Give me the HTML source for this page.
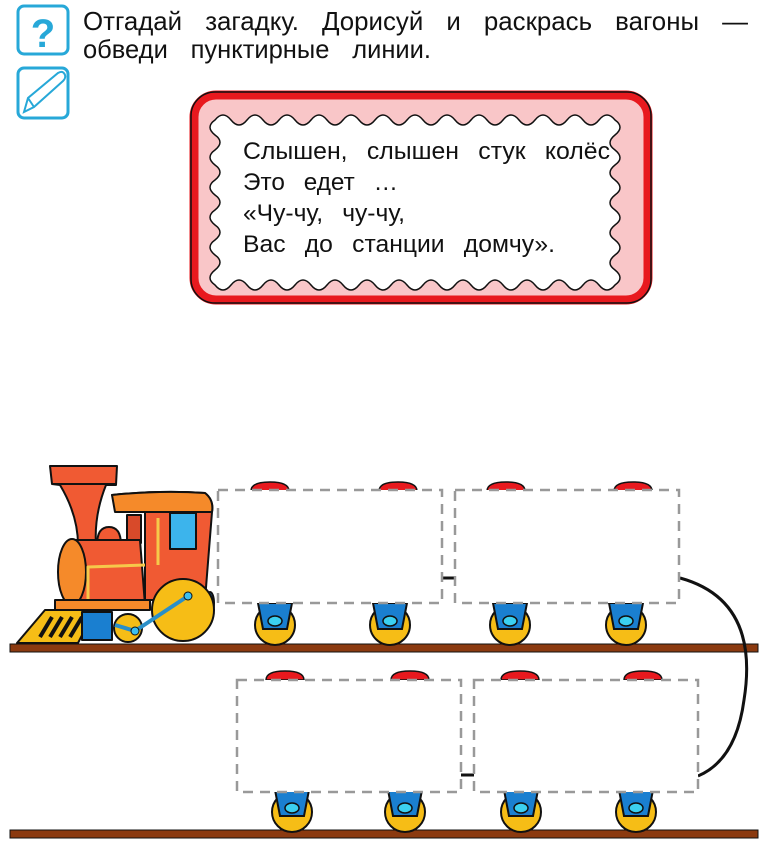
<!DOCTYPE html>
<html><head><meta charset="utf-8">
<style>
html,body{margin:0;padding:0;background:#fff;}
body{width:768px;height:854px;position:relative;overflow:hidden;}
svg{position:absolute;left:0;top:0;}
text{font-family:"Liberation Sans",Arial,sans-serif;}
</style></head><body>
<svg width="768" height="854" viewBox="0 0 768 854" xmlns="http://www.w3.org/2000/svg">
<defs>
<g id="wheel">
  <circle cx="0" cy="0" r="20" fill="#f6bd16" stroke="#111" stroke-width="2"/>
  <polygon points="-17,-22 17,-22 12,4 -12,4" fill="#1a7fd0" stroke="#111" stroke-width="2"/>
  <ellipse cx="0" cy="-4" rx="7" ry="5" fill="#3bd0f0" stroke="#111" stroke-width="1.5"/>
</g>
<path id="dome" d="M-19,0 Q-19,-9 0,-9 Q19,-9 19,0 Z" fill="#e8191e" stroke="#111" stroke-width="1.5"/>
</defs>

<rect x="18" y="6" width="50" height="48" rx="6" fill="#fff" stroke="#27a8d8" stroke-width="3"/>
<text x="43" y="47" font-size="40" font-weight="bold" fill="#27a8d8" text-anchor="middle">?</text>
<rect x="18" y="68" width="50" height="50" rx="6" fill="#fff" stroke="#27a8d8" stroke-width="3"/>
<path d="M24,112 L28,98 L58,73 Q63,70 65,75 Q66,78 63,81 L34,107 Z M28,98 L34,107" fill="none" stroke="#27a8d8" stroke-width="2"/>

<g font-size="26" fill="#111">
<text x="83" y="30" word-spacing="16" textLength="665" lengthAdjust="spacingAndGlyphs">Отгадай загадку. Дорисуй и раскрась вагоны —</text>
<text x="83" y="58" word-spacing="16" textLength="348" lengthAdjust="spacingAndGlyphs">обведи пунктирные линии.</text>
</g>

<rect x="194" y="95" width="454" height="205" rx="22" fill="#f9c6c8" stroke="#e8191e" stroke-width="9"/>
<rect x="191" y="92" width="460" height="211" rx="24" fill="none" stroke="#111" stroke-width="1.5"/>
<path fill="#fff" stroke="#111" stroke-width="1.5" d="
M215,120
q8,-10 16,0 q8,10 16,0 q8,-10 16,0 q8,10 16,0 q8,-10 16,0 q8,10 16,0 q8,-10 16,0 q8,10 16,0 q8,-10 16,0 q8,10 16,0 q8,-10 16,0 q8,10 16,0 q8,-10 16,0 q8,10 16,0 q8,-10 16,0 q8,10 16,0 q8,-10 16,0 q8,10 16,0 q8,-10 16,0 q8,10 16,0 q8,-10 16,0 q8,10 16,0 q8,-10 16,0 q8,10 16,0 q8,-10 16,0
q10,7 0,15 q-10,8 0,15 q10,8 0,15 q-10,8 0,15 q10,8 0,15 q-10,8 0,15 q10,8 0,15 q-10,8 0,15 q10,8 0,15 q-10,8 0,15 q10,8 0,15
q-8,10 -16,0 q-8,-10 -16,0 q-8,10 -16,0 q-8,-10 -16,0 q-8,10 -16,0 q-8,-10 -16,0 q-8,10 -16,0 q-8,-10 -16,0 q-8,10 -16,0 q-8,-10 -16,0 q-8,10 -16,0 q-8,-10 -16,0 q-8,10 -16,0 q-8,-10 -16,0 q-8,10 -16,0 q-8,-10 -16,0 q-8,10 -16,0 q-8,-10 -16,0 q-8,10 -16,0 q-8,-10 -16,0 q-8,10 -16,0 q-8,-10 -16,0 q-8,10 -16,0 q-8,-10 -16,0 q-8,10 -16,0
q-10,-7 0,-15 q10,-8 0,-15 q-10,-8 0,-15 q10,-8 0,-15 q-10,-8 0,-15 q10,-8 0,-15 q-10,-8 0,-15 q10,-8 0,-15 q-10,-8 0,-15 q10,-8 0,-15 q-10,-8 0,-15 Z"/>
<g font-size="24" fill="#111">
<text x="243" y="159" word-spacing="12" textLength="367" lengthAdjust="spacingAndGlyphs">Слышен, слышен стук колёс</text>
<text x="243" y="190" word-spacing="12" textLength="155" lengthAdjust="spacingAndGlyphs">Это едет …</text>
<text x="243" y="221" word-spacing="12" textLength="162" lengthAdjust="spacingAndGlyphs">«Чу-чу, чу-чу,</text>
<text x="243" y="252" word-spacing="12" textLength="312" lengthAdjust="spacingAndGlyphs">Вас до станции домчу».</text>
</g>

<rect x="10" y="644" width="748" height="8" fill="#8b3a10" stroke="#111" stroke-width="1"/>
<rect x="10" y="830" width="748" height="8" fill="#8b3a10" stroke="#111" stroke-width="1"/>

<path d="M680,578 Q760,600 744,700 Q736,760 698,776" fill="none" stroke="#111" stroke-width="3"/>
<line x1="442" y1="578" x2="455" y2="578" stroke="#111" stroke-width="3"/>
<line x1="461" y1="775" x2="474" y2="775" stroke="#111" stroke-width="3"/>

<use href="#dome" x="270" y="491"/><use href="#dome" x="398" y="491"/>
<use href="#dome" x="506" y="491"/><use href="#dome" x="633" y="491"/>
<use href="#wheel" x="275" y="625"/><use href="#wheel" x="390" y="625"/>
<use href="#wheel" x="510" y="625"/><use href="#wheel" x="626" y="625"/>
<rect x="218" y="490" width="224" height="113" fill="#fff" stroke="#999" stroke-width="2.5" stroke-dasharray="10,7"/>
<rect x="455" y="490" width="224" height="113" fill="#fff" stroke="#999" stroke-width="2.5" stroke-dasharray="10,7"/>

<use href="#dome" x="285" y="680"/><use href="#dome" x="410" y="680"/>
<use href="#dome" x="520" y="680"/><use href="#dome" x="643" y="680"/>
<use href="#wheel" x="292" y="812"/><use href="#wheel" x="405" y="812"/>
<use href="#wheel" x="521" y="812"/><use href="#wheel" x="636" y="812"/>
<rect x="237" y="680" width="224" height="112" fill="#fff" stroke="#999" stroke-width="2.5" stroke-dasharray="10,7"/>
<rect x="474" y="680" width="224" height="112" fill="#fff" stroke="#999" stroke-width="2.5" stroke-dasharray="10,7"/>

<g stroke="#111" stroke-width="2" stroke-linejoin="round">
  <path d="M112,495 Q160,490 205,493 Q214,500 212,512 L205,600 L145,600 L145,510 Z" fill="#f05a33"/>
  <path d="M112,495 Q160,490 205,493 Q214,500 212,512 L115,512 Z" fill="#f58a2a"/>
  <rect x="170" y="513" width="26" height="36" fill="#3cb4ec"/>
  <rect x="127" y="515" width="14" height="28" fill="#d84a2a"/>
  <path d="M50,466 L117,466 L116,485 L106,485 Q94,515 96,545 L78,545 Q78,515 60,485 L52,484 Z" fill="#f05a33"/>
  <line x1="52" y1="484" x2="116" y2="484"/>
  <path d="M97,545 Q97,527 109,527 Q121,527 121,545 Z" fill="#f05a33"/>
  <path d="M72,540 L140,540 L145,605 L72,605 Z" fill="#f05a33"/>
  <ellipse cx="72" cy="572" rx="14" ry="33" fill="#f58a2a"/>
  <path d="M88,605 L88,567 L145,565" fill="none" stroke="#f6c94a" stroke-width="3"/>
  <path d="M158,518 L158,565" fill="none" stroke="#f6c94a" stroke-width="3"/>
  <rect x="55" y="600" width="95" height="10" fill="#f58a2a"/>
  <polygon points="17,643 45,610 95,610 78,643" fill="#f6bd16"/>
  <g stroke="#111" stroke-width="4"><line x1="40" y1="637" x2="52" y2="617"/><line x1="50" y1="637" x2="62" y2="617"/><line x1="60" y1="637" x2="72" y2="617"/><line x1="70" y1="637" x2="82" y2="617"/></g>
  <rect x="82" y="612" width="30" height="28" fill="#1a7fd0"/>
  <rect x="200" y="596" width="8" height="14" fill="#1a7fd0"/>
  <ellipse cx="210" cy="603" rx="4" ry="11" fill="#1a7fd0"/>
  <circle cx="128" cy="628" r="14" fill="#f6bd16"/>
  <circle cx="183" cy="610" r="31" fill="#f6bd16"/>
  <line x1="135" y1="631" x2="188" y2="596" stroke="#2a8fc8" stroke-width="4"/>
  <line x1="115" y1="625" x2="135" y2="631" stroke="#2a8fc8" stroke-width="4"/>
  <circle cx="135" cy="631" r="4" fill="#3cc0f0" stroke-width="1"/>
  <circle cx="188" cy="596" r="4" fill="#3cc0f0" stroke-width="1"/>
</g>
</svg>
</body></html>
